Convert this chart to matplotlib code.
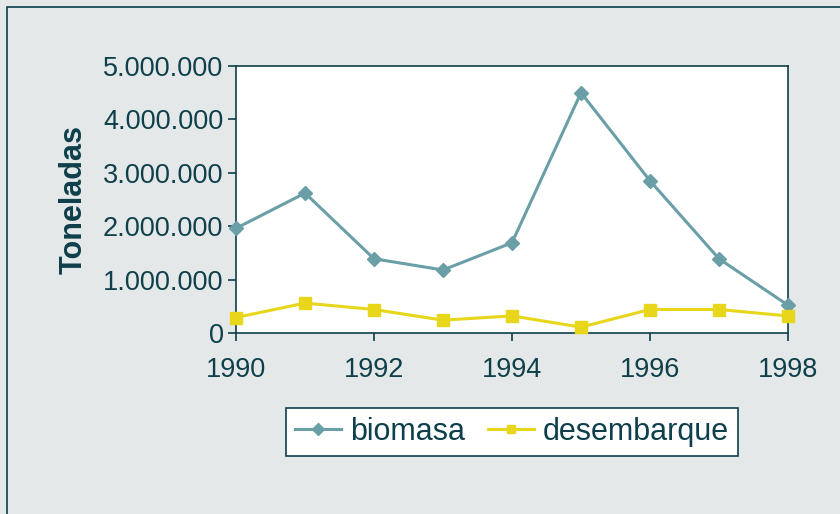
"""Biomasa y desembarque, 1990-1998."""

import matplotlib

matplotlib.use("Agg")
import matplotlib.pyplot as plt  # noqa: E402
from matplotlib.patches import Rectangle  # noqa: E402
from matplotlib.ticker import FuncFormatter, MultipleLocator  # noqa: E402

YEARS = [1990, 1991, 1992, 1993, 1994, 1995, 1996, 1997, 1998]
BIOMASA = [1960000, 2620000, 1390000, 1180000, 1690000, 4500000, 2850000, 1390000, 520000]
DESEMBARQUE = [290000, 560000, 440000, 240000, 320000, 110000, 440000, 440000, 320000]

BG = "#E4E8E8"
DARK = "#0E3F4A"
TEAL = "#6A9FA8"
YELLOW = "#E8D61A"

plt.rcParams["font.family"] = ["Liberation Sans", "DejaVu Sans"]

fig = plt.figure(figsize=(8.4, 5.14), dpi=100)
fig.patch.set_facecolor(BG)
fig.patches.append(
    Rectangle((7 / 840, -0.1), 1.2, 1 - 7 / 514 + 0.1, transform=fig.transFigure,
              fill=False, edgecolor=DARK, linewidth=1.2, zorder=0)
)

ax = fig.add_axes([236 / 840, 181 / 514, 552 / 840, 267 / 514])
ax.set_facecolor("white")

ax.plot(YEARS, BIOMASA, color=TEAL, linewidth=2.2, marker="D", markersize=7.5,
        label="biomasa", clip_on=False, zorder=3)
ax.plot(YEARS, DESEMBARQUE, color=YELLOW, linewidth=2.2, marker="s", markersize=8,
        label="desembarque", clip_on=False, zorder=3)

ax.set_xlim(1990, 1998)
ax.set_ylim(0, 5000000)
ax.xaxis.set_major_locator(MultipleLocator(2))
ax.yaxis.set_major_locator(MultipleLocator(1000000))
ax.yaxis.set_major_formatter(FuncFormatter(lambda v, _: f"{v:,.0f}".replace(",", ".")))

for spine in ax.spines.values():
    spine.set_color(DARK)
    spine.set_linewidth(1.2)

ax.tick_params(axis="both", direction="out", length=6, width=1.2, color=DARK,
               labelcolor=DARK, labelsize=19.5)
ax.tick_params(axis="x", pad=11)
ax.tick_params(axis="y", pad=3)

ax.set_ylabel("Toneladas", fontsize=22, fontweight="bold", color=DARK, labelpad=10)

leg = ax.legend(loc="center", bbox_to_anchor=(512 / 840, 1 - 432 / 514),
                bbox_transform=fig.transFigure, ncol=2, fontsize=22, frameon=True,
                fancybox=False, edgecolor=DARK, framealpha=1, handlelength=1.5,
                handletextpad=0.3, columnspacing=0.75, borderpad=0.3,
                markerscale=0.8)
leg.get_frame().set_linewidth(1.2)
for text in leg.get_texts():
    text.set_color(DARK)

fig.savefig("out.png", dpi=100, facecolor=BG)
